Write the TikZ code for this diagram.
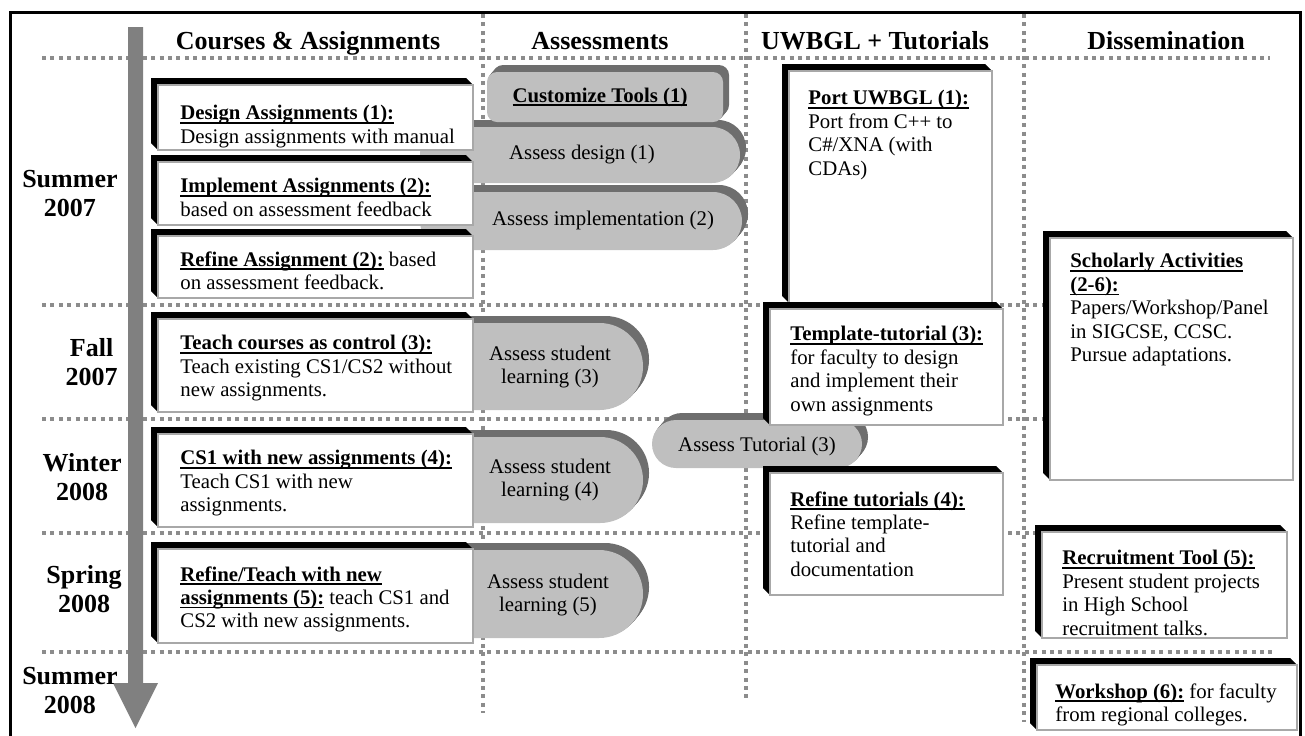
\documentclass[tikz,border=0pt]{standalone}
\usepackage{fontspec}
\setmainfont{Liberation Serif}
\definecolor{dotgray}{HTML}{8C8C8C}
\definecolor{arrowgray}{HTML}{808080}
\definecolor{boxgray}{HTML}{A8A8A8}
\definecolor{pillgray}{HTML}{BFBFBF}
\definecolor{shadowgray}{HTML}{6E6E6E}
\newsavebox{\ulbbox}
\newcommand{\ulb}[1]{\sbox{\ulbbox}{\textbf{#1}}\rlap{\rule[-2.0pt]{\wd\ulbbox}{0.8pt}}\usebox{\ulbbox}}
\newcommand{\mybox}[4]{%
  \fill[black] (#1-7,#2-7) -- (#3-7,#2-7) -- (#3,#2) -- (#1,#4) -- (#1-7,#4-7) -- cycle;
  \draw[wbox] (#1,#2) rectangle (#3,#4);}
\newcommand{\mypill}[5]{%
  \foreach \k in {1,...,7}{\fill[shadowgray, rounded corners=#5, shift={(\k*0.86,-\k)}] (#1,#2) rectangle (#3,#4);}
  \fill[pillgray, rounded corners=#5] (#1,#2) rectangle (#3,#4);}
\begin{document}
\begin{tikzpicture}[x=0.5pt,y=-0.5pt,
  dotline/.style={dotgray, line width=2pt, dash pattern=on 2pt off 2.2pt},
  wbox/.style={fill=white, draw=boxgray, line width=1pt},
  txt/.style={inner sep=0pt, align=left, anchor=north west, font=\fontsize{10.4}{11.7}\selectfont},
  hdr/.style={inner sep=0pt, anchor=base, font=\fontsize{13}{15}\selectfont\bfseries},
  season/.style={inner sep=0pt, align=center, anchor=east, font=\fontsize{13}{14.5}\selectfont\bfseries},
  pilltxt/.style={inner sep=0pt, align=center, font=\fontsize{10.4}{11.7}\selectfont}]
\useasboundingbox (0,0) rectangle (1305,735);
% outer frame
\draw[line width=1.5pt] (10,12) rectangle (1300,745);
% grid of dotted lines
\foreach \yy in {58,305,419,533}{\draw[dotline] (42,\yy) -- (1270,\yy);}
\draw[dotline] (42,652) -- (1275,652);
\draw[dotline] (483,14) -- (483,713);
\draw[dotline] (746,14) -- (746,702);
\draw[dotline] (1024,14) -- (1024,722);
% time arrow
\fill[arrowgray] (128,27) -- (143,27) -- (143,683) -- (158,683) -- (135.5,728) -- (113,683) -- (128,683) -- cycle;
% headers
\node[hdr] (h1) at (308,49) {Courses \& Assignments};
\node[hdr] (h2) at (600,49) {Assessments};
\node[hdr] (h3) at (875,49) {UWBGL + Tutorials};
\node[hdr] (h4) at (1166,49) {Dissemination};
% seasons
\node[season] (s1) at (118,194) {Summer\\2007};
\node[season] (s2) at (118,362) {Fall\\2007};
\node[season] (s3) at (122,477) {Winter\\2008};
\node[season] (s4) at (122,589) {Spring\\2008};
\node[season] (s5) at (118,691) {Summer\\2008};
% assessment pills
\mypill{420}{192}{742}{250}{14.5pt}
\mypill{420}{127}{740}{183}{14pt}
\mypill{487}{72}{723}{122}{5pt}
\mypill{420}{323}{643}{410}{21.75pt}
\mypill{420}{437}{643}{523}{21.5pt}
\mypill{420}{550}{643}{638}{22pt}
\node[pilltxt] (a0) at (600,97) {\ulb{Customize Tools (1)}};
\node[pilltxt] (a1) at (582,155) {Assess design (1)};
\node[pilltxt] (a2) at (603,220) {Assess implementation (2)};
\node[pilltxt] (a3) at (550,367) {Assess student\\learning (3)};
\node[pilltxt] (a4) at (550,480) {Assess student\\learning (4)};
\node[pilltxt] (a5) at (548,595) {Assess student\\learning (5)};
% course boxes
\mybox{158}{85}{473}{150}
\node[txt] (c1) at (180,105) {\ulb{Design Assignments (1):}\\Design assignments with manual};
\mybox{158}{162}{473}{225}
\node[txt] (c2) at (180,178) {\ulb{Implement Assignments (2):}\\based on assessment feedback};
\mybox{158}{236}{473}{298}
\node[txt] (c3) at (180,251) {\ulb{Refine Assignment (2):} based\\on assessment feedback.};
\mybox{158}{319}{473}{412}
\node[txt] (c4) at (180,335) {\ulb{Teach courses as control (3):}\\Teach existing CS1/CS2 without\\new assignments.};
\mybox{158}{434}{473}{527}
\node[txt] (c5) at (180,450) {\ulb{CS1 with new assignments (4):}\\Teach CS1 with new\\assignments.};
\mybox{158}{549}{473}{643}
\node[txt] (c6) at (180,566) {\ulb{Refine/Teach with new}\\\ulb{assignments (5):} teach CS1 and\\CS2 with new assignments.};
% tutorial pill
\mypill{652}{420}{862}{468}{12pt}
\node[pilltxt] (at) at (757,446) {Assess Tutorial (3)};
% UWBGL boxes
\mybox{789}{71}{992}{303}
\node[txt] (u1) at (808,90) {\ulb{Port UWBGL (1):}\\Port from C++ to\\C\#/XNA (with\\CDAs)};
\mybox{770}{309}{1003}{425}
\node[txt] (u2) at (790,326) {\ulb{Template-tutorial (3):}\\for faculty to design\\and implement their\\own assignments};
\mybox{770}{473}{1003}{595}
\node[txt] (u3) at (790,491) {\ulb{Refine tutorials (4):}\\Refine template-\\tutorial and\\documentation};
% dissemination boxes
\mybox{1050}{238}{1293}{480}
\node[txt] (d1) at (1070,253) {\ulb{Scholarly Activities}\\\ulb{(2-6):}\\Papers/Workshop/Panel\\in SIGCSE, CCSC.\\Pursue adaptations.};
\mybox{1042}{532}{1287}{638}
\node[txt] (d2) at (1062,550) {\ulb{Recruitment Tool (5):}\\Present student projects\\in High School\\recruitment talks.};
\mybox{1037}{665}{1297}{730}
\node[txt] (d3) at (1055,683) {\ulb{Workshop (6):} for faculty\\from regional colleges.};
\end{tikzpicture}
\end{document}
